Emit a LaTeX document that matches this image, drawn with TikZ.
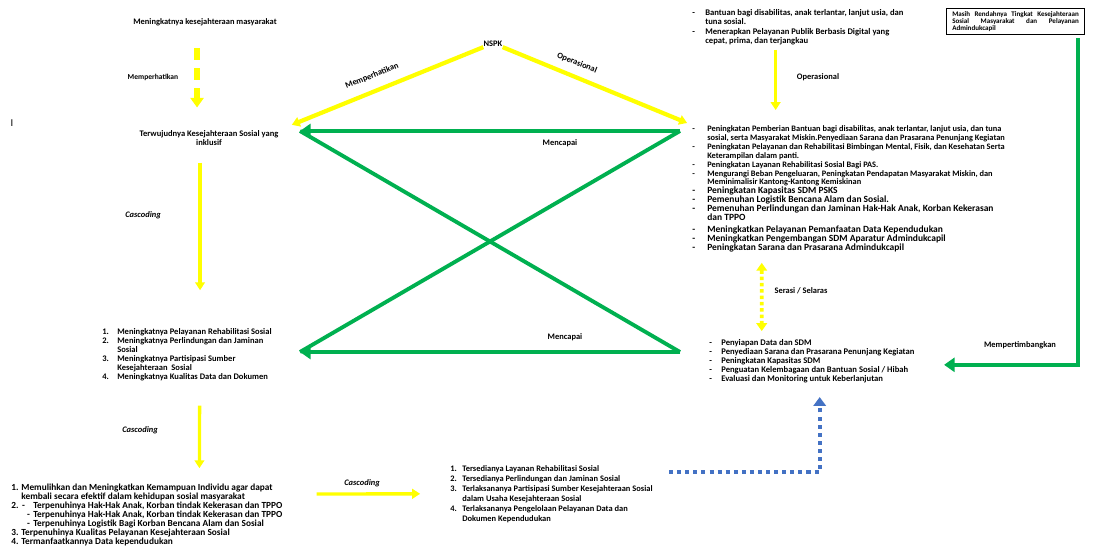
\documentclass[tikz,border=0pt]{standalone}
\usepackage{fontspec}
\setmainfont{Carlito}
\usetikzlibrary{arrows.meta}
\definecolor{pptyellow}{RGB}{255,255,0}
\definecolor{pptgreen}{RGB}{0,176,80}
\definecolor{pptblue}{RGB}{68,114,196}
\newcommand{\itm}[2][8.5pt]{\makebox[#1][l]{#2}}
\newcommand{\cnt}[1][8.5pt]{\hspace*{#1}}
\newcommand{\upsz}{\fontsize{5.4}{5.1}\selectfont}

\begin{document}
\begin{tikzpicture}
[
x=0.02cm, y=-0.02cm,
txtlist/.style={inner sep=0pt, align=left, anchor=north west, font=\bfseries\fontsize{4.85}{5.1}\selectfont},
lbl/.style={inner sep=0pt, font=\bfseries\fontsize{4.8}{5.6}\selectfont},
cas/.style={inner sep=0pt, font=\bfseries\itshape\fontsize{4.8}{5.6}\selectfont},
yarrow/.style={draw=pptyellow, line width=1.9pt, -{Triangle[width=5.5pt,length=4.5pt]}},
ydash/.style={draw=pptyellow, line width=3pt, dash pattern=on 7pt off 4.5pt, -{Triangle[width=7.5pt,length=5.5pt]}},
ydots/.style={draw=pptyellow, line width=2.2pt, dash pattern=on 2pt off 1.6pt, {Triangle[width=6pt,length=4.5pt]}-{Triangle[width=6pt,length=4.5pt]}},
garrow/.style={draw=pptgreen, line width=2.2pt, -{Triangle[width=8pt,length=6pt]}},
gline/.style={draw=pptgreen, line width=2.2pt},
bdots/.style={draw=pptblue, line width=2.3pt, dash pattern=on 2.3pt off 2.3pt, -{Triangle[width=7pt,length=5pt]}},
isubox/.style={draw, line width=0.6pt, inner xsep=3.4pt, inner ysep=2pt, text width=72pt, minimum height=15.3pt, align=justify, font=\bfseries\fontsize{4}{3.8}\selectfont},
]
\fill[white] (0,0) rectangle (1094,546);
\useasboundingbox (0,0) rectangle (1094,546);

%Place the nodes
\node[lbl] (kesmas) at (205,22) {Meningkatnya kesejahteraan masyarakat};
\node[lbl, font=\fontsize{6}{6}\selectfont] (stray) at (12,123) {I};
\node[txtlist, anchor=center, align=center] (inklusif) at (209,138) {Terwujudnya Kesejahteraan Sosial yang\\inklusif};
\node[txtlist] (sasaran) at (102,328) {%
\itm{1.}Meningkatnya Pelayanan Rehabilitasi Sosial\\
\itm{2.}Meningkatnya Perlindungan dan Jaminan\\
\cnt Sosial\\
\itm{3.}Meningkatnya Partisipasi Sumber\\
\cnt Kesejahteraan\ \ Sosial\\
\itm{4.}Meningkatnya Kualitas Data dan Dokumen};
\node[txtlist, font=\bfseries\fontsize{5.3}{5.1}\selectfont] (tujuan) at (11,484) {%
\itm[5.7pt]{1.}Memulihkan dan Meningkatkan Kemampuan Individu agar dapat\\
\cnt[5.7pt]kembali secara efektif dalam kehidupan sosial masyarakat\\
\itm[6.2pt]{2.}\itm[6.3pt]{-}Terpenuhinya Hak-Hak Anak, Korban tindak Kekerasan dan TPPO\\
\cnt[9pt]\itm[3.5pt]{-}Terpenuhinya Hak-Hak Anak, Korban tindak Kekerasan dan TPPO\\
\cnt[9pt]\itm[3.5pt]{-}Terpenuhinya Logistik Bagi Korban Bencana Alam dan Sosial\\
\itm[5.7pt]{3.}Terpenuhinya Kualitas Pelayanan Kesejahteraan Sosial\\
\itm[5.7pt]{4.}Termanfaatkannya Data kependudukan};
\node[txtlist, font=\bfseries\fontsize{4.8}{5.7}\selectfont] (output) at (450,465) {%
\itm[6.8pt]{1.}Tersedianya Layanan Rehabilitasi Sosial\\
\itm[6.8pt]{2.}Tersedianya Perlindungan dan Jaminan Sosial\\
\itm[6.8pt]{3.}Terlaksananya Partisipasi Sumber Kesejahteraan Sosial\\
\cnt[6.8pt]dalam Usaha Kesejahteraan Sosial\\
\itm[6.8pt]{4.}Terlaksananya Pengelolaan Pelayanan Data dan\\
\cnt[6.8pt]Dokumen Kependudukan};
\node[lbl] (nspk) at (493,44) {NSPK};
\node[txtlist, font=\bfseries\fontsize{4.9}{5.4}\selectfont] (layanan) at (692,9) {%
\itm[7.4pt]{-}Bantuan bagi disabilitas, anak terlantar, lanjut usia, dan\\
\cnt[7.4pt]tuna sosial.\\
\itm[7.4pt]{-}Menerapkan Pelayanan Publik Berbasis Digital yang\\
\cnt[7.4pt]cepat, prima, dan terjangkau};
\node[isubox] (isu) at (1015.5,21.5) {Masih Rendahnya Tingkat Kesejahteraan\linebreak Sosial Masyarakat dan Pelayanan\linebreak Admindukcapil};
\node[txtlist, font=\bfseries\fontsize{4.75}{5.1}\selectfont] (program) at (692,125) {%
\itm{-}Peningkatan Pemberian Bantuan bagi disabilitas, anak terlantar, lanjut usia, dan tuna\\
\cnt sosial, serta Masyarakat Miskin.Penyediaan Sarana dan Prasarana Penunjang Kegiatan\\
\itm{-}Peningkatan Pelayanan dan Rehabilitasi Bimbingan Mental, Fisik, dan Kesehatan Serta\\
\cnt Keterampilan dalam panti.\\
\itm{-}Peningkatan Layanan Rehabilitasi Sosial Bagi PAS.\\
\itm{-}Mengurangi Beban Pengeluaran, Peningkatan Pendapatan Masyarakat Miskin, dan\\
\cnt Meminimalisir Kantong-Kantong Kemiskinan\\
\upsz\itm{-}Peningkatan Kapasitas SDM PSKS\\
\upsz\itm{-}Pemenuhan Logistik Bencana Alam dan Sosial.\\
\upsz\itm{-}Pemenuhan Perlindungan dan Jaminan Hak-Hak Anak, Korban Kekerasan\\
\upsz\cnt dan TPPO\\[1.5pt]
\upsz\itm{-}Meningkatkan Pelayanan Pemanfaatan Data Kependudukan\\
\upsz\itm{-}Meningkatkan Pengembangan SDM Aparatur Admindukcapil\\
\upsz\itm{-}Peningkatan Sarana dan Prasarana Admindukcapil};
\node[txtlist, font=\bfseries\fontsize{4.9}{5.1}\selectfont] (kegiatan) at (709,339) {%
\itm[6.8pt]{-}Penyiapan Data dan SDM\\
\itm[6.8pt]{-}Penyediaan Sarana dan Prasarana Penunjang Kegiatan\\
\itm[6.8pt]{-}Peningkatan Kapasitas SDM\\
\itm[6.8pt]{-}Penguatan Kelembagaan dan Bantuan Sosial / Hibah\\
\itm[6.8pt]{-}Evaluasi dan Monitoring untuk Keberlanjutan};

%Labels
\node[lbl, font=\bfseries\fontsize{4.3}{5}\selectfont] (l1) at (153,77) {Memperhatikan};
\node[cas] (c1) at (143,215) {Cascoding};
\node[cas] (c2) at (140,430) {Cascoding};
\node[cas] (c3) at (362,483) {Cascoding};
\node[lbl, rotate=22] (l2) at (372,76) {Memperhatikan};
\node[lbl, rotate=-22] (l3) at (577,63) {Operasional};
\node[lbl] (l4) at (818,77) {Operasional};
\node[lbl] (l5) at (801,291) {Serasi / Selaras};
\node[lbl] (l6) at (1020,345) {Mempertimbangkan};
\node[lbl] (l7) at (560,143) {Mencapai};
\node[lbl] (l8) at (565,337) {Mencapai};

%Corners of the green cross
\coordinate (gtl) at (300,131);
\coordinate (gtr) at (680,131);
\coordinate (gbl) at (300,352);
\coordinate (gbr) at (680,352);

%Draw the connections
\draw[ydash, shorten <=12.5pt, shorten >=12.9pt] ([xshift=-6.8pt]inklusif.north |- kesmas.south) -- ([xshift=-6.8pt]inklusif.north);
\draw[yarrow, shorten <=9.6pt, shorten >=21.5pt] ([xshift=-5.1pt]inklusif.south) -- ([xshift=-5.1pt]inklusif.south |- sasaran.north);
\draw[yarrow, shorten <=14pt, shorten >=9pt] ([xshift=55.6pt]sasaran.south west) -- ([xshift=107.2pt]tujuan.north west);
\draw[yarrow] ([xshift=174pt,yshift=-5.7pt]tujuan.north west) -- ([xshift=-17pt,yshift=-16.4pt]output.north west);
\draw[yarrow, line width=2.4pt, shorten >=8pt] (nspk.south west) -- (inklusif.north east);
\draw[yarrow, line width=2.4pt, shorten >=3pt] (nspk.south east) -- (program.north west);
\draw[yarrow, shorten <=2.3pt, shorten >=8.5pt] ([xshift=47.6pt]layanan.south west) -- ([xshift=47.6pt]program.north west);
\draw[ydots, shorten <=6pt, shorten >=4.5pt] ([xshift=39.7pt]program.south west) -- ([xshift=30pt]kegiatan.north west);
\draw[bdots] ([xshift=124.7pt,yshift=-4pt]output.north west) -| ([xshift=63pt,yshift=-8pt]kegiatan.south west);
\draw[garrow, shorten <=1.7pt] ([xshift=-4pt]isu.south east) |- ([xshift=133.8pt,yshift=-14.7pt]kegiatan.north west);
\draw[garrow] (gtr) -- (gtl);
\draw[garrow] (gbr) -- (gbl);
\draw[gline] (gtr) -- (gbl);
\draw[gline] (gtl) -- (gbr);
\end{tikzpicture}
\end{document}
